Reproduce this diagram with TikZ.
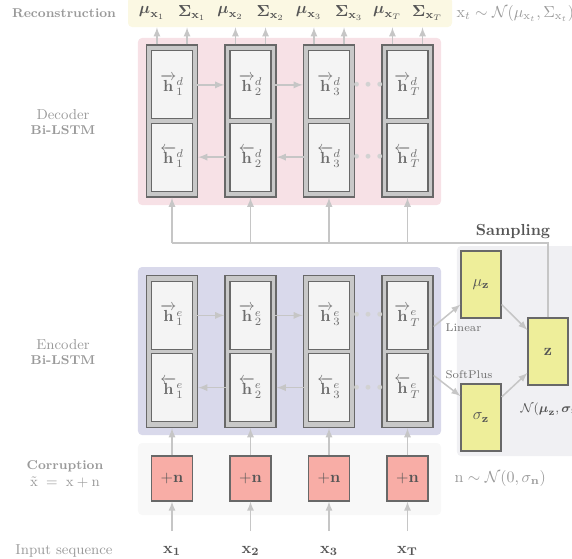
\documentclass[tikz,border=0pt]{standalone}
\usepackage{amsmath,amssymb}
\usepackage{tikz}
\usetikzlibrary{arrows,positioning,calc}

\definecolor{recfill}{HTML}{FBF8E3}
\definecolor{decfill}{HTML}{F7E1E6}
\definecolor{encfill}{HTML}{D9D9EB}
\definecolor{corfill}{HTML}{F8F8F8}
\definecolor{smpfill}{HTML}{F0F0F3}
\definecolor{lstmfill}{HTML}{C8C8C8}
\definecolor{cellfill}{HTML}{F4F4F4}
\definecolor{edgegray}{HTML}{686868}
\definecolor{linkgray}{HTML}{C6C6C6}
\definecolor{dotgray}{HTML}{D2D2D2}
\definecolor{gaussfill}{HTML}{EEEE9A}
\definecolor{noisefill}{HTML}{F8ADA6}
\definecolor{labelgray}{HTML}{9A9A9A}
\definecolor{textgray}{HTML}{6E6E6E}
\definecolor{darkgray}{HTML}{555555}

\begin{document}
\begin{tikzpicture}[x=0.625pt,
            y=-0.625pt,
            >=latex,
            node distance=49.06pt,
            band/.style={rounded corners=2.5pt, inner sep=0pt, draw=none},
            lstm/.style={draw=edgegray, fill=lstmfill, line width=0.9pt,
                         minimum width=31.9pt, minimum height=95pt, inner sep=0pt},
            hcell/.style={draw=edgegray, fill=cellfill, line width=0.75pt,
                          minimum width=25.6pt, minimum height=42.5pt,
                          inner sep=0pt, text=textgray},
            noise/.style={draw=edgegray, fill=noisefill, line width=0.75pt,
                          minimum width=25.6pt, minimum height=28.1pt,
                          inner sep=0pt, text=darkgray},
            gauss/.style={draw=edgegray, fill=gaussfill, line width=0.75pt,
                          minimum width=25pt, minimum height=41.9pt,
                          inner sep=0pt, text=darkgray},
            link/.style={color=linkgray, line width=0.95pt},
            dots/.style={text=dotgray, font=\scriptsize},
            sidelabel/.style={text=labelgray, align=center, font=\footnotesize},
            toplabel/.style={text=darkgray},
            inlabel/.style={text=darkgray}]

        \useasboundingbox (0,0) rectangle (572,558);

        % backgrounds
        \node[band, fill=recfill, minimum width=202.5pt, minimum height=18.75pt] (recband) at (290,12) {};
        \node[band, fill=decfill, minimum width=189.4pt, minimum height=104.4pt] (decband) at (289.5,121.5) {};
        \node[band, fill=encfill, minimum width=189.4pt, minimum height=105pt]   (encband) at (289.5,351) {};
        \node[band, fill=corfill, minimum width=189.4pt, minimum height=45pt]    (corband) at (289.5,479) {};
        \node[band, fill=smpfill, minimum width=76.9pt,  minimum height=131.25pt] (smpband) at (518.5,351) {};

        % decoder
        \node[lstm] (do1) at (172,121) {};
        \node[lstm] (do2) [right of=do1] {};
        \node[lstm] (do3) [right of=do2] {};
        \node[lstm] (doT) [right of=do3] {};

        \node[hcell] (df1) [below=3.75pt of do1.north] {$\overrightarrow{\mathbf{h}}^{d}_{1}$};
        \node[hcell] (df2) [below=3.75pt of do2.north] {$\overrightarrow{\mathbf{h}}^{d}_{2}$};
        \node[hcell] (df3) [below=3.75pt of do3.north] {$\overrightarrow{\mathbf{h}}^{d}_{3}$};
        \node[hcell] (dfT) [below=3.75pt of doT.north] {$\overrightarrow{\mathbf{h}}^{d}_{T}$};
        \node[hcell] (db1) [above=3.75pt of do1.south] {$\overleftarrow{\mathbf{h}}^{d}_{1}$};
        \node[hcell] (db2) [above=3.75pt of do2.south] {$\overleftarrow{\mathbf{h}}^{d}_{2}$};
        \node[hcell] (db3) [above=3.75pt of do3.south] {$\overleftarrow{\mathbf{h}}^{d}_{3}$};
        \node[hcell] (dbT) [above=3.75pt of doT.south] {$\overleftarrow{\mathbf{h}}^{d}_{T}$};

        \node[dots] (ddf) at ($(df3.center -| do3.east)!0.5!(df3.center -| doT.west)$) {$\bullet\,\bullet\,\bullet$};
        \node[dots] (ddb) at ($(db3.center -| do3.east)!0.5!(db3.center -| doT.west)$) {$\bullet\,\bullet\,\bullet$};

        % encoder
        \node[lstm] (eo1) at (172,351.5) {};
        \node[lstm] (eo2) [right of=eo1] {};
        \node[lstm] (eo3) [right of=eo2] {};
        \node[lstm] (eoT) [right of=eo3] {};

        \node[hcell] (ef1) [below=3.75pt of eo1.north] {$\overrightarrow{\mathbf{h}}^{e}_{1}$};
        \node[hcell] (ef2) [below=3.75pt of eo2.north] {$\overrightarrow{\mathbf{h}}^{e}_{2}$};
        \node[hcell] (ef3) [below=3.75pt of eo3.north] {$\overrightarrow{\mathbf{h}}^{e}_{3}$};
        \node[hcell] (efT) [below=3.75pt of eoT.north] {$\overrightarrow{\mathbf{h}}^{e}_{T}$};
        \node[hcell] (eb1) [above=3.75pt of eo1.south] {$\overleftarrow{\mathbf{h}}^{e}_{1}$};
        \node[hcell] (eb2) [above=3.75pt of eo2.south] {$\overleftarrow{\mathbf{h}}^{e}_{2}$};
        \node[hcell] (eb3) [above=3.75pt of eo3.south] {$\overleftarrow{\mathbf{h}}^{e}_{3}$};
        \node[hcell] (ebT) [above=3.75pt of eoT.south] {$\overleftarrow{\mathbf{h}}^{e}_{T}$};

        \node[dots] (edf) at ($(ef3.center -| eo3.east)!0.5!(ef3.center -| eoT.west)$) {$\bullet\,\bullet\,\bullet$};
        \node[dots] (edb) at ($(eb3.center -| eo3.east)!0.5!(eb3.center -| eoT.west)$) {$\bullet\,\bullet\,\bullet$};

        % corruption and inputs
        \node[noise] (n1) at (172,478.5)  {$+\mathbf{n}$};
        \node[noise] (n2) [right of=n1]   {$+\mathbf{n}$};
        \node[noise] (n3) [right of=n2]   {$+\mathbf{n}$};
        \node[noise] (nT) [right of=n3]   {$+\mathbf{n}$};

        \node[inlabel] (x1) at (172,551) {$\mathbf{x_1}$};
        \node[inlabel] (x2) [right of=x1] {$\mathbf{x_2}$};
        \node[inlabel] (x3) [right of=x2] {$\mathbf{x_3}$};
        \node[inlabel] (xT) [right of=x3] {$\mathbf{x_T}$};

        % sampling
        \node[gauss] (muz) at (481,284.5) {$\mu_{\mathbf{z}}$};
        \node[gauss] (sgz) at (481,417.5) {$\sigma_{\mathbf{z}}$};
        \node[gauss] (zz)  at (548,351.5) {$\mathbf{z}$};
        \coordinate (bar) at (0,243);

        % reconstruction
        \node[toplabel] (mu1) at (152,13)   {$\boldsymbol{\mu}_{\mathbf{x}_1}$};
        \node[toplabel] (sg1) at (192,13)   {$\boldsymbol{\Sigma}_{\mathbf{x}_1}$};
        \node[toplabel] (mu2) at (230.5,13) {$\boldsymbol{\mu}_{\mathbf{x}_2}$};
        \node[toplabel] (sg2) at (270.5,13) {$\boldsymbol{\Sigma}_{\mathbf{x}_2}$};
        \node[toplabel] (mu3) at (309,13)   {$\boldsymbol{\mu}_{\mathbf{x}_3}$};
        \node[toplabel] (sg3) at (349,13)   {$\boldsymbol{\Sigma}_{\mathbf{x}_3}$};
        \node[toplabel] (muT) at (387.5,13) {$\boldsymbol{\mu}_{\mathbf{x}_T}$};
        \node[toplabel] (sgT) at (427.5,13) {$\boldsymbol{\Sigma}_{\mathbf{x}_T}$};

        % side labels
        \node[sidelabel] (reclab) at (64,13)  {\textbf{Reconstruction}};
        \node[sidelabel] (declab) at (63,122) {{\small Decoder}\\\textbf{Bi-LSTM}};
        \node[sidelabel] (enclab) at (63,352) {{\small Encoder}\\\textbf{Bi-LSTM}};
        \node[sidelabel] (corlab) at (65,474) {\textbf{Corruption}\\[1pt]{\small$\tilde{\mathrm{x}}\;=\;\mathrm{x}+\mathrm{n}$}};
        \node[sidelabel] (inlab)  at (64,551) {\small Input sequence};

        \node[text=labelgray, anchor=west] (reclaw)   at (451,13)  {$\mathrm{x}_t \sim \mathcal{N}(\mu_{\mathrm{x}_t}, \Sigma_{\mathrm{x}_t})$};
        \node[text=labelgray, anchor=west] (noiselaw) at (449,478) {$\mathrm{n} \sim \mathcal{N}(0, \sigma_{\mathbf{n}})$};
        \node[text=darkgray, font=\bfseries] (smplab) at (513,232) {Sampling};
        \node[text=textgray, font=\scriptsize, anchor=west] (linlab) at (440,328) {Linear};
        \node[text=textgray, font=\scriptsize, anchor=west] (splab)  at (440,375) {SoftPlus};
        \node[text=darkgray, font=\footnotesize, anchor=west] (zlaw) at (515,409)
             {$\mathcal{N}(\boldsymbol{\mu}_{\mathbf{z}}, \boldsymbol{\sigma}_{\mathbf{z}})$};

        % recurrent links
        \draw[link,->] (df1.east) -- (df1.east -| do2.west);
        \draw[link,->] (df2.east) -- (df2.east -| do3.west);
        \draw[link,->] (db2.west) -- (db2.west -| do1.east);
        \draw[link,->] (db3.west) -- (db3.west -| do2.east);
        \draw[link,->] (ef1.east) -- (ef1.east -| eo2.west);
        \draw[link,->] (ef2.east) -- (ef2.east -| eo3.west);
        \draw[link,->] (eb2.west) -- (eb2.west -| eo1.east);
        \draw[link,->] (eb3.west) -- (eb3.west -| eo2.east);

        % decoder outputs
        \draw[link,->] ([xshift=-9.4pt]do1.north) -- ([xshift=-9.4pt]do1.north |- recband.south);
        \draw[link,->] ([xshift=9.4pt]do1.north)  -- ([xshift=9.4pt]do1.north |- recband.south);
        \draw[link,->] ([xshift=-9.4pt]do2.north) -- ([xshift=-9.4pt]do2.north |- recband.south);
        \draw[link,->] ([xshift=9.4pt]do2.north)  -- ([xshift=9.4pt]do2.north |- recband.south);
        \draw[link,->] ([xshift=-9.4pt]do3.north) -- ([xshift=-9.4pt]do3.north |- recband.south);
        \draw[link,->] ([xshift=9.4pt]do3.north)  -- ([xshift=9.4pt]do3.north |- recband.south);
        \draw[link,->] ([xshift=-9.4pt]doT.north) -- ([xshift=-9.4pt]doT.north |- recband.south);
        \draw[link,->] ([xshift=9.4pt]doT.north)  -- ([xshift=9.4pt]doT.north |- recband.south);

        % z to decoder
        \draw[link] (zz.north) |- (do1.south |- bar);
        \draw[link,->] (do1.south |- bar) -- (do1.south);
        \draw[link,->] (do2.south |- bar) -- (do2.south);
        \draw[link,->] (do3.south |- bar) -- (do3.south);
        \draw[link,->] (doT.south |- bar) -- (doT.south);

        % encoder to sampling
        \draw[link,->] ([yshift=15.6pt]eoT.east) -- ([yshift=-12.5pt]muz.west);
        \draw[link,->] ([yshift=-15pt]eoT.east)  -- ([yshift=13.4pt]sgz.west);
        \draw[link,->] ([yshift=-12.5pt]muz.east) -- ([yshift=13.4pt]zz.west);
        \draw[link,->] ([yshift=12.8pt]sgz.east)  -- ([yshift=-13.4pt]zz.west);

        % inputs
        \path[link,->,shorten <=6pt] (x1) edge (n1)
                                     (x2) edge (n2)
                                     (x3) edge (n3)
                                     (xT) edge (nT);
        \path[link,->] (n1) edge (eo1)
                       (n2) edge (eo2)
                       (n3) edge (eo3)
                       (nT) edge (eoT);

    \end{tikzpicture}
\end{document}
